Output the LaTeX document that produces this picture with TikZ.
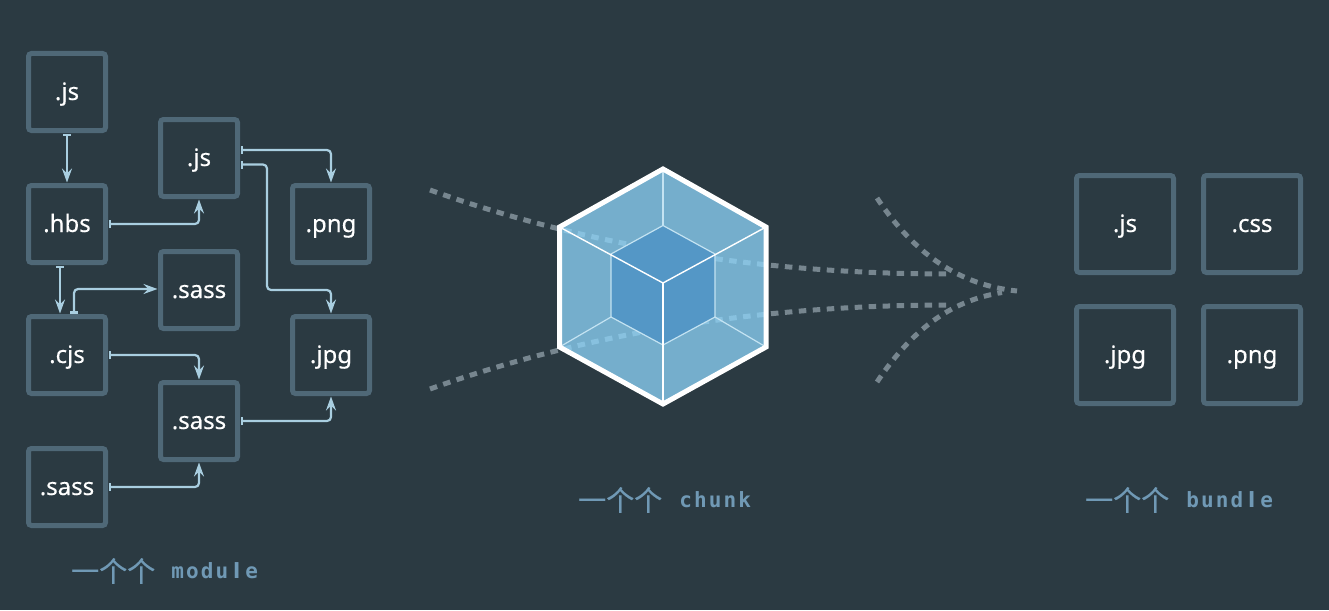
\documentclass[tikz,border=0pt]{standalone}
\usepackage{fontspec}
\usetikzlibrary{arrows.meta}
\setmainfont[FakeBold=0.25]{Noto Sans}
\newfontfamily\cjkf[FakeBold=0.5]{Noto Sans CJK SC}
\newfontfamily\monof[BoldFont={DejaVu Sans Mono Bold}]{DejaVu Sans Mono}
\newfontfamily\barf{DejaVu Sans}
\definecolor{bgc}{HTML}{2B3A42}
\definecolor{boxc}{HTML}{4F6877}
\definecolor{conc}{HTML}{A9CEE0}
\definecolor{capc}{HTML}{7099B5}
\definecolor{dashc}{HTML}{77868F}
\definecolor{hexc}{HTML}{8ED6FB}
\definecolor{cubec}{HTML}{5497C6}
\definecolor{edgec}{HTML}{C4E3F2}
\newcommand\mcell[1]{\makebox[14.8pt]{\monof\bfseries #1}}
\newcommand\lcell{\makebox[14.8pt]{\barf\bfseries l}}
\newcommand\cnlabel{{\cjkf 一个个}}
\tikzset{
  modbox/.style={draw=boxc,line width=5pt,rounded corners=3pt,minimum size=77pt,outer sep=3pt,text=white,font=\fontsize{24}{28}\selectfont,inner sep=0pt,text height=22pt,text depth=6pt},
  bunbox/.style={modbox,minimum size=97pt},
  link/.style={draw=conc,line width=2.2pt,rounded corners=4pt,{Bar[width=8pt,length=2pt]}-{Stealth[length=14pt,width=10pt,inset=5pt]}},
  flow/.style={draw=dashc,line width=5pt,dash pattern=on 7.5pt off 6.5pt},
  caption/.style={text=capc,font=\fontsize{28}{30}\selectfont,anchor=west,inner sep=0pt},
  latincap/.style={caption,font=\fontsize{21}{24}\selectfont},
  thinedge/.style={draw=edgec,line width=1.2pt},
  whiteedge/.style={draw=white,line width=1.4pt}
}
\begin{document}
\begin{tikzpicture}[x=1pt,y=-1pt]
\useasboundingbox (0,0) rectangle (1329,610);
\fill[bgc] (0,0) rectangle (1329,610);
% module boxes
\node[modbox] (a1) at (67,92) {.js};
\node[modbox] (a2) at (67,224) {.hbs};
\node[modbox] (a3) at (67,355) {.cjs};
\node[modbox] (a4) at (67,487) {.sass};
\node[modbox] (b1) at (199,158) {.js};
\node[modbox] (b2) at (199,290) {.sass};
\node[modbox] (b3) at (199,421) {.sass};
\node[modbox] (c1) at (331,224) {.png};
\node[modbox] (c2) at (331,355) {.jpg};
\coordinate (bend) at (267,290);
% connectors
\draw[link] (a1.south) -- (a2.north);
\draw[link] (a2.east) -| (b1.south);
\draw[link] ([yshift=8pt]b1.east) -| (c1.north);
\draw[link] ([yshift=-6.5pt]b1.east) -| (bend) -| (c2.north);
\draw[link] ([xshift=-7pt]a2.south) -- ([xshift=-7pt]a3.north);
\draw[link] ([xshift=7pt]a3.north) |- ([yshift=1pt]b2.west);
\draw[link] (a3.east) -| (b3.north);
\draw[link] (b3.east) -| (c2.south);
\draw[link] (a4.east) -| (b3.south);
% flows
\coordinate (f1) at (430,190);
\coordinate (f2) at (950,274);
\coordinate (f3) at (430,389);
\coordinate (f4) at (950,305);
\coordinate (f5) at (877,198);
\coordinate (f6) at (877,382);
\coordinate (f7) at (1017,291);
\coordinate (f8) at (1002,292.5);
\draw[flow] (f1) .. controls (570,240) and (740,274) .. (f2);
\draw[flow] (f3) .. controls (570,339) and (740,305) .. (f4);
\draw[flow] (f5) .. controls (915,255) and (960,285) .. (f7);
\draw[flow] (f6) .. controls (915,325) and (955,300) .. (f8);
% hexagon
\fill[hexc,fill opacity=0.75] (663,169) -- (766,227) -- (766,347) -- (663,404) -- (559.5,347) -- (559.5,227) -- cycle;
\fill[cubec] (663,225.5) -- (715,254) -- (715,317) -- (663,345) -- (611,317) -- (611,254) -- cycle;
\draw[thinedge] (663,225.5) -- (715,254) -- (715,317) -- (663,345) -- (611,317) -- (611,254) -- cycle;
\draw[thinedge] (663,169) -- (663,225.5);
\draw[thinedge] (559.5,347) -- (611,317);
\draw[thinedge] (766,347) -- (715,317);
\draw[whiteedge] (559.5,227) -- (663,283) -- (766,227);
\draw[whiteedge] (663,283) -- (663,404);
\draw[draw=white,line width=5pt,miter limit=10] (663,169) -- (766,227) -- (766,347) -- (663,404) -- (559.5,347) -- (559.5,227) -- cycle;
% bundle boxes
\node[bunbox] (d1) at (1125,224) {.js};
\node[bunbox] (d2) at (1252,224) {.css};
\node[bunbox] (d3) at (1125,355) {.jpg};
\node[bunbox] (d4) at (1252,355) {.png};
% captions
\node[caption] (t1) at (71,571) {\cnlabel};
\node[latincap] (t1b) at (170,571) {\mcell{m}\mcell{o}\mcell{d}\mcell{u}\lcell\mcell{e}};
\node[caption] (t2) at (578,500) {\cnlabel};
\node[latincap] (t2b) at (678,500) {\mcell{c}\mcell{h}\mcell{u}\mcell{n}\mcell{k}};
\node[caption] (t3) at (1085,500) {\cnlabel};
\node[latincap] (t3b) at (1185,500) {\mcell{b}\mcell{u}\mcell{n}\mcell{d}\lcell\mcell{e}};
\end{tikzpicture}
\end{document}
